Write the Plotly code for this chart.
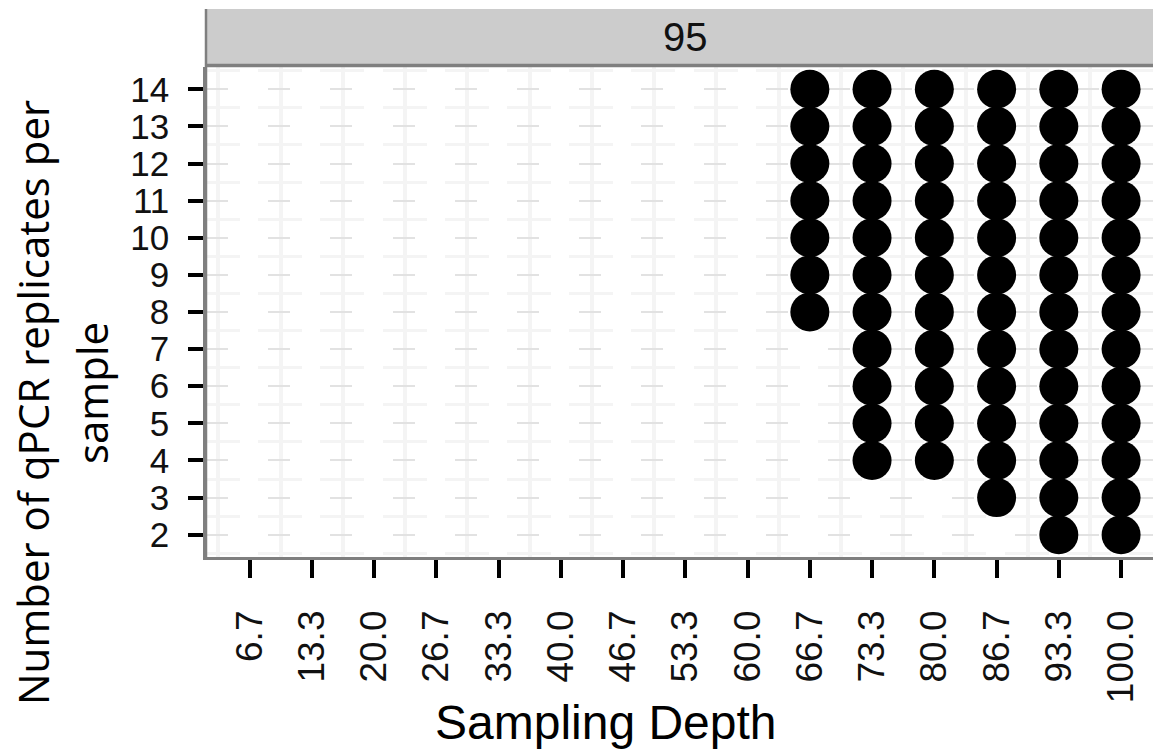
import plotly.graph_objects as go

# ---- data ----
depth_labels = ["6.7", "13.3", "20.0", "26.7", "33.3", "40.0", "46.7", "53.3",
                "60.0", "66.7", "73.3", "80.0", "86.7", "93.3", "100.0"]
depth_values = [6.67, 13.33, 20.0, 26.67, 33.33, 40.0, 46.67, 53.33,
                60.0, 66.67, 73.33, 80.0, 86.67, 93.33, 100.0]
replicate_ticks = [2, 3, 4, 5, 6, 7, 8, 9, 10, 11, 12, 13, 14]

reps_66_7 = [8, 9, 10, 11, 12, 13, 14]
reps_73_3 = [4, 5, 6, 7, 8, 9, 10, 11, 12, 13, 14]
reps_80_0 = [4, 5, 6, 7, 8, 9, 10, 11, 12, 13, 14]
reps_86_7 = [3, 4, 5, 6, 7, 8, 9, 10, 11, 12, 13, 14]
reps_93_3 = [2, 3, 4, 5, 6, 7, 8, 9, 10, 11, 12, 13, 14]
reps_100_0 = [2, 3, 4, 5, 6, 7, 8, 9, 10, 11, 12, 13, 14]

panel_label = "95"

columns = [(66.67, reps_66_7), (73.33, reps_73_3), (80.0, reps_80_0),
           (86.67, reps_86_7), (93.33, reps_93_3), (100.0, reps_100_0)]
xs, ys = [], []
for d, reps in columns:
    xs += [d] * len(reps)
    ys += reps

step = depth_values[1] - depth_values[0]
x_minor = [v - step / 2 for v in depth_values] + [depth_values[-1] + step / 2]
y_minor = [v - 0.5 for v in replicate_ticks] + [replicate_ticks[-1] + 0.5]

xlo = depth_values[0] - 0.7 * step
xhi = depth_values[-1] + 0.513 * step
ylo, yhi = 1.4, 14.6

fig = go.Figure()
fig.add_trace(go.Scatter(
    x=xs, y=ys, mode="markers",
    marker=dict(size=39, color="black", line=dict(width=0)),
    showlegend=False, hoverinfo="x+y"))

tickfont = dict(family="Liberation Sans, Arial, sans-serif", color="#111111")

fig.update_layout(
    width=1153, height=755,
    margin=dict(l=206, r=0, t=67, b=198),
    paper_bgcolor="white", plot_bgcolor="white",
    xaxis=dict(
        range=[xlo, xhi], tickmode="array", tickvals=depth_values, ticktext=depth_labels,
        tickangle=-90, ticks="outside", ticklen=18, tickwidth=4, tickcolor="black",
        ticklabelstandoff=18,
        tickfont=dict(size=37, **tickfont),
        showgrid=False, zeroline=False,
        showline=True, linecolor="#7f7f7f", linewidth=2.5,
        minor=dict(tickmode="array", tickvals=x_minor, showgrid=True,
                   gridcolor="#f4f4f4", gridwidth=4, ticks=""),
    ),
    yaxis=dict(
        range=[ylo, yhi], tickmode="array", tickvals=replicate_ticks,
        ticks="outside", ticklen=15, tickwidth=4, tickcolor="black",
        ticklabelstandoff=12,
        tickfont=dict(size=35, **tickfont),
        showgrid=True, gridcolor="#e2e2e2", gridwidth=2, griddash="22px,40.2px",
        zeroline=False,
        showline=True, linecolor="#7f7f7f", linewidth=2.5,
        minor=dict(tickmode="array", tickvals=y_minor, showgrid=True,
                   gridcolor="#f4f4f4", gridwidth=3, griddash="34px,18.2px,10px,0px",
                   ticks=""),
    ),
    shapes=[
        dict(type="rect", xref="paper", yref="paper", x0=0, x1=1.02,
             y0=1.0, y1=1 + 58 / 490, fillcolor="#cccccc", line=dict(width=0),
             layer="above"),
        dict(type="line", xref="paper", yref="paper", x0=0, x1=1.02,
             y0=1.0 + 1.5 / 490, y1=1.0 + 1.5 / 490,
             line=dict(color="#7f7f7f", width=3.5), layer="above"),
        dict(type="line", xref="paper", yref="paper", x0=0, x1=0,
             y0=0, y1=1 + 58 / 490,
             line=dict(color="#7f7f7f", width=2.5), layer="above"),
    ],
    annotations=[
        dict(text=panel_label, xref="x", yref="paper",
             x=(xlo + depth_values[-1] + 0.7 * step) / 2, y=1 + 30 / 490,
             showarrow=False, xanchor="center", yanchor="middle",
             font=dict(size=40, **tickfont)),
        dict(text="Sampling Depth", xref="paper", yref="paper",
             x=(606 - 206) / 947, y=-(722 - 557) / 490,
             showarrow=False, xanchor="center", yanchor="middle",
             font=dict(size=48, family="Liberation Sans, Arial, sans-serif", color="black")),
        dict(text="Number of qPCR replicates per", xref="paper", yref="paper",
             x=(32 - 206) / 947, y=(557 - 403) / 490, textangle=-90,
             showarrow=False, xanchor="center", yanchor="middle",
             font=dict(size=42, family="Open Sans, sans-serif", color="black")),
        dict(text="sample", xref="paper", yref="paper",
             x=(91 - 206) / 947, y=(557 - 393) / 490, textangle=-90,
             showarrow=False, xanchor="center", yanchor="middle",
             font=dict(size=42, family="Open Sans, sans-serif", color="black")),
    ],
)

fig.write_html("out.html")
